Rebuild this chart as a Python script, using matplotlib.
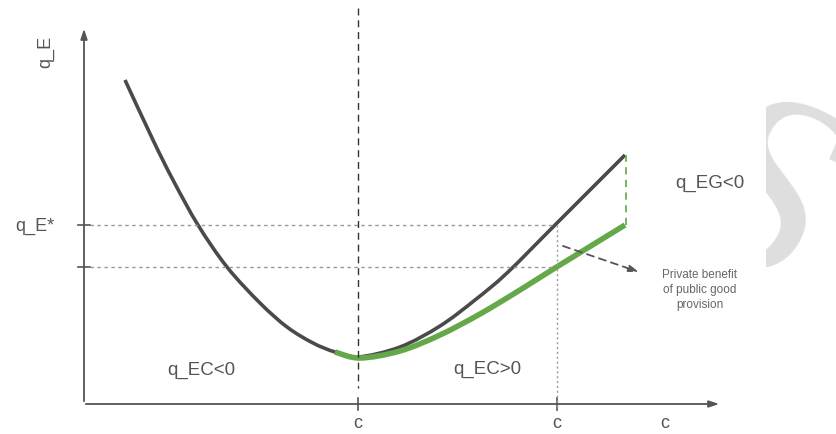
import matplotlib
matplotlib.use("Agg")
import matplotlib.pyplot as plt
from matplotlib.path import Path
from matplotlib.patches import PathPatch, Rectangle

plt.rcParams['font.family'] = ['Liberation Sans', 'DejaVu Sans']

# curves (origin at the axes corner)
black_x = [41, 69, 89, 114, 143, 176, 203, 229, 251, 274, 316, 356, 391, 423, 471, 541]
black_y = [324, 264, 224, 179, 137, 101, 77, 61, 52, 47, 57, 78, 104, 131, 179, 249]
green_x = [251, 276, 316, 356, 396, 436, 471, 541]
green_y = [52, 46, 53, 69, 90, 114, 136, 179]

c_ticks = [274, 473]
c_labels = ['c', 'c', 'c']
c_label_x = [274, 473, 581]
qe_star = 179
qe_low = 137


def smooth_path(xs, ys):
    # catmull-rom through the read points, drawn as cubic beziers
    pts = list(zip(xs, ys))
    verts = [pts[0]]
    codes = [Path.MOVETO]
    for i in range(len(pts) - 1):
        p0 = pts[i - 1] if i > 0 else pts[i]
        p1 = pts[i]
        p2 = pts[i + 1]
        p3 = pts[i + 2] if i + 2 < len(pts) else pts[i + 1]
        c1 = (p1[0] + (p2[0] - p0[0]) / 6, p1[1] + (p2[1] - p0[1]) / 6)
        c2 = (p2[0] - (p3[0] - p1[0]) / 6, p2[1] - (p3[1] - p1[1]) / 6)
        verts += [c1, c2, p2]
        codes += [Path.CURVE4] * 3
    return Path(verts, codes)


fig = plt.figure(figsize=(8.36, 4.34), dpi=100)
ax = fig.add_axes([0, 0, 1, 1])
ax.set_xlim(-84, 752)
ax.set_ylim(-30, 404)
ax.axis('off')

txt = '#555555'
axc = '#555555'

# faint watermark glyph at the right edge
wm = ax.text(672, 200, 'S', ha='center', va='center', fontsize=190, color='#dedede',
             family='Liberation Serif', style='italic', rotation=-25, zorder=0, clip_on=True)
clip = Rectangle((682, -30), 80, 434, transform=ax.transData, facecolor='none', edgecolor='none')
ax.add_patch(clip)
wm.set_clip_path(clip)

# axes with arrows
ax.annotate('', xy=(0, 378), xytext=(0, 0),
            arrowprops=dict(arrowstyle='-|>,head_length=0.6,head_width=0.2', color=axc, lw=1.3))
ax.annotate('', xy=(638, 0), xytext=(-1, 0),
            arrowprops=dict(arrowstyle='-|>,head_length=0.6,head_width=0.2', color=axc, lw=1.3))

# ticks
for yv in [qe_star, qe_low]:
    ax.plot([-6, 6], [yv, yv], color=axc, lw=1.2)
for xv in c_ticks:
    ax.plot([xv, xv], [-6, 6], color=axc, lw=1.2)

# guide lines
ax.plot([6, 471], [qe_star, qe_star], color='#999999', lw=1, linestyle=(0, (2.5, 2.5)))
ax.plot([6, 471], [qe_low, qe_low], color='#999999', lw=1, linestyle=(0, (2.5, 2.5)))
ax.plot([473, 473], [qe_star, -6], color='#999999', lw=1, linestyle=(0, (1.5, 2)))
ax.plot([274, 274], [396, 16], color='#333333', lw=1, linestyle=(0, (5, 3.5)))

# curves
ax.add_patch(PathPatch(smooth_path(black_x, black_y), facecolor='none', edgecolor='#4a4a4a',
                       lw=2.6, capstyle='butt', joinstyle='round'))
ax.add_patch(PathPatch(smooth_path(green_x, green_y), facecolor='none', edgecolor='#65a84a',
                       lw=4, capstyle='butt', joinstyle='round'))
ax.plot([green_x[-1] + 1, green_x[-1] + 1], [green_y[-1], black_y[-1]], color='#6ab04c', lw=1.3,
        linestyle=(0, (4, 3)))

# arrow to the note
ax.annotate('', xy=(555, 132), xytext=(479, 158),
            arrowprops=dict(arrowstyle='-|>,head_length=0.6,head_width=0.2', color='#555555',
                            lw=1.3, linestyle=(0, (4, 3)), shrinkA=0, shrinkB=0))

# text
ax.text(-38, 352, 'q_E', rotation=90, ha='center', va='center', fontsize=13, color=txt)
ax.text(-49, 178, 'q_E*', ha='center', va='center', fontsize=13, color=txt)
ax.text(117, 34, 'q_EC<0', ha='center', va='center', fontsize=13.5, color=txt)
ax.text(403, 35, 'q_EC>0', ha='center', va='center', fontsize=13.5, color=txt)
ax.text(626, 221, 'q_EG<0', ha='center', va='center', fontsize=13.5, color=txt)
ax.text(616, 114, 'Private benefit\nof public good\nprovision', ha='center', va='center',
        fontsize=8.5, color='#666666', linespacing=1.3)
for xv, lab in zip(c_label_x, c_labels):
    ax.text(xv, -20, lab, ha='center', va='center', fontsize=13, color=txt)

fig.savefig('out.png', dpi=100)
